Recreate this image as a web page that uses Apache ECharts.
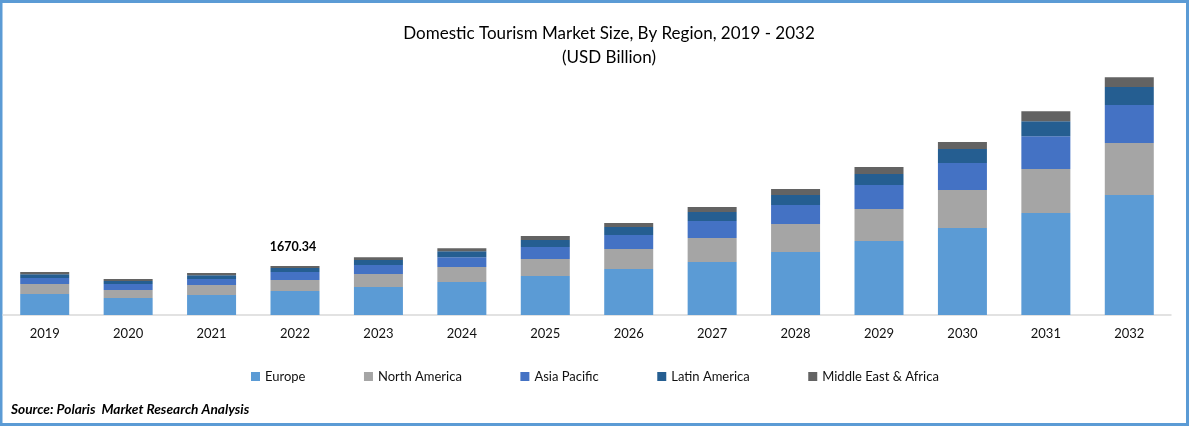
<!DOCTYPE html>
<html>
<head>
    <meta charset="utf-8">
    <title>Domestic Tourism Market Size</title>
    <script src="https://cdn.jsdelivr.net/npm/echarts@6/dist/echarts.min.js"></script>
    <style>
        html, body { margin: 0; padding: 0; background: #fff; }
    </style>
</head>
<body>
<div id="main" style="width:1189px;height:426px"></div>
<script type="text/javascript">
    var years = ['2019', '2020', '2021', '2022', '2023', '2024', '2025', '2026', '2027', '2028', '2029', '2030', '2031', '2032'];
    var regions = ['Europe', 'North America', 'Asia Pacific', 'Latin America', 'Middle East & Africa'];
    var colors = ['#5B9BD5', '#A5A5A5', '#4472C4', '#255E91', '#636363'];

    // values, USD billion
    var europe = [715, 580, 680, 820, 955, 1125, 1330, 1570, 1810, 2150, 2525, 2970, 3480, 4095];
    var northAmerica = [340, 275, 340, 375, 445, 510, 580, 680, 820, 955, 1090, 1295, 1500, 1775];
    var asiaPacific = [205, 205, 205, 270, 305, 340, 410, 480, 580, 650, 820, 920, 1125, 1295];
    var latinAmerica = [135, 100, 135, 140, 170, 205, 240, 275, 305, 340, 375, 480, 510, 615];
    var middleEastAfrica = [70, 70, 70, 65.34, 100, 100, 135, 135, 170, 205, 240, 240, 340, 340];
    var seriesValues = [europe, northAmerica, asiaPacific, latinAmerica, middleEastAfrica];

    var labelYear = '2022';
    var labelText = '1670.34';

    var myChart = echarts.init(document.getElementById('main'));

    var series = regions.map(function (name, i) {
        var s = {
            name: name,
            type: 'bar',
            stack: 'total',
            barWidth: 49,
            itemStyle: { color: colors[i] },
            data: seriesValues[i]
        };
        // only one total is printed on the chart
        if (i == regions.length - 1) {
            s.label = {
                show: true,
                position: 'top',
                distance: 13,
                offset: [-2, 0],
                fontFamily: 'Lato',
                fontSize: 12.5,
                fontWeight: 'bold',
                color: '#000',
                formatter: function (p) {
                    return p.name == labelYear ? labelText : '';
                }
            };
        }
        return s;
    });

    myChart.setOption({
        animation: false,
        title: {
            text: 'Domestic Tourism Market Size, By Region, 2019 - 2032\n(USD Billion)',
            left: 604,
            top: 17,
            textAlign: 'center',
            textStyle: {
                fontFamily: 'Lato',
                fontSize: 17,
                fontWeight: 'normal',
                color: '#000',
                lineHeight: 24
            }
        },
        legend: {
            data: regions,
            left: 246,
            top: 365,
            itemWidth: 9,
            itemHeight: 9,
            itemGap: 58.5,
            icon: 'rect',
            textStyle: { fontFamily: 'Lato', fontSize: 13, color: '#111' }
        },
        grid: { left: 3, right: 18, top: 66, bottom: 111 },
        xAxis: {
            type: 'category',
            data: years,
            axisTick: { show: false },
            axisLine: { lineStyle: { color: '#D9D9D9', width: 1.5 } },
            axisLabel: { fontFamily: 'Lato', fontSize: 13, color: '#111', margin: 12 }
        },
        yAxis: {
            type: 'value',
            min: 0,
            max: 8500,
            show: false
        },
        series: series,
        graphic: [
            // blue frame around the picture
            {
                type: 'rect',
                shape: { x: 1, y: 1.5, width: 1186.5, height: 423 },
                style: { fill: 'none', stroke: '#5B9BD5', lineWidth: 3 }
            },
            {
                type: 'text',
                left: 11,
                top: 403,
                style: {
                    text: 'Source: Polaris  Market Research Analysis',
                    fontFamily: 'Lato',
                    fontSize: 13.7,
                    fontWeight: 'bold',
                    fontStyle: 'italic',
                    fill: '#000'
                }
            }
        ]
    });
</script>
</body>
</html>
